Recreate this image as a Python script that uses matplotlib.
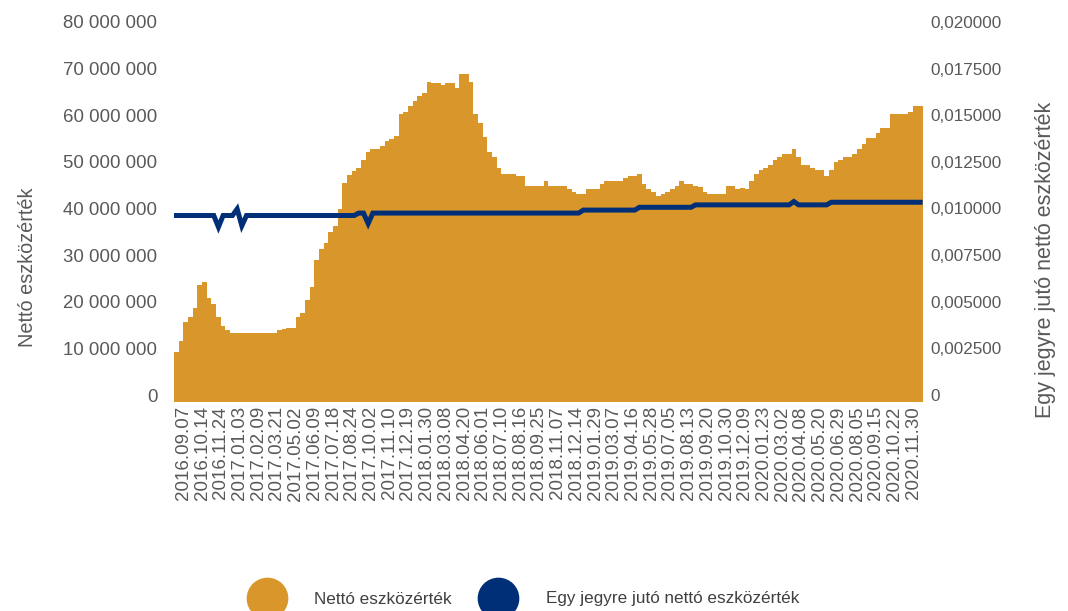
import numpy as np
import matplotlib
matplotlib.use("Agg")
import matplotlib.pyplot as plt
from matplotlib.ticker import FuncFormatter
from matplotlib.lines import Line2D
from matplotlib.transforms import ScaledTranslation

# tick dates shown on the category axis (one every 4 samples)
date_labels = [
    "2016.09.07", "2016.10.14", "2016.11.24", "2017.01.03", "2017.02.09",
    "2017.03.21", "2017.05.02", "2017.06.09", "2017.07.18", "2017.08.24",
    "2017.10.02", "2017.11.10", "2017.12.19", "2018.01.30", "2018.03.08",
    "2018.04.20", "2018.06.01", "2018.07.10", "2018.08.16", "2018.09.25",
    "2018.11.07", "2018.12.14", "2019.01.29", "2019.03.07", "2019.04.16",
    "2019.05.28", "2019.07.05", "2019.08.13", "2019.09.20", "2019.10.30",
    "2019.12.09", "2020.01.23", "2020.03.02", "2020.04.08", "2020.05.20",
    "2020.06.29", "2020.08.05", "2020.09.15", "2020.10.22", "2020.11.30",
]

# net asset value, million HUF (sampled 4x per label interval)
net_assets = [
    10.8, 13.0, 17.1, 18.3, 20.1, 25.0, 25.7, 22.2, 21.0, 18.3,
    16.4, 15.5, 14.8, 14.8, 14.8, 14.9, 14.9, 14.8, 14.8, 14.8,
    14.8, 14.8, 15.4, 15.7, 15.9, 15.9, 18.3, 19.1, 21.8, 24.6,
    30.4, 32.9, 34.1, 36.5, 37.7, 41.3, 46.9, 48.7, 49.5, 50.1,
    52.0, 53.6, 54.3, 54.3, 54.9, 56.0, 56.5, 57.0, 61.8, 62.2,
    63.5, 64.6, 65.6, 66.2, 68.7, 68.5, 68.5, 68.0, 68.5, 68.5,
    67.4, 70.4, 70.4, 68.6, 61.8, 59.9, 56.9, 53.6, 52.6, 50.2,
    49.0, 49.0, 49.0, 48.4, 48.4, 46.3, 46.3, 46.3, 46.3, 47.4,
    46.3, 46.3, 46.3, 46.3, 45.7, 45.1, 44.6, 44.6, 45.7, 45.7,
    45.7, 46.7, 47.4, 47.4, 47.4, 47.4, 48.0, 48.4, 48.4, 49.0,
    46.7, 45.7, 45.1, 44.1, 44.6, 45.1, 45.7, 46.3, 47.4, 46.7,
    46.7, 46.3, 46.2, 45.1, 44.6, 44.6, 44.6, 44.6, 46.3, 46.3,
    45.7, 46.0, 45.7, 47.4, 49.0, 49.7, 50.1, 50.8, 51.9, 52.6,
    53.2, 53.2, 54.3, 52.6, 50.8, 50.8, 50.1, 49.7, 49.7, 48.4,
    49.7, 51.5, 51.9, 52.6, 52.6, 53.2, 54.3, 55.3, 56.6, 56.6,
    57.7, 58.7, 58.7, 61.8, 61.8, 61.8, 61.8, 62.2, 63.5, 63.5,
]

# net asset value per unit
per_unit = (
    [0.01000] * 9 + [0.00938] + [0.01000] * 3 + [0.01035, 0.00945]
    + [0.01000] * 24
    + [0.01013, 0.01013, 0.00957] + [0.01013] * 45
    + [0.01029] * 12
    + [0.01044] * 12
    + [0.01057] * 21 + [0.01075] + [0.01057] * 7
    + [0.01071] * 20
)

orange = "#d9962b"
navy = "#002f77"
grey = "#595959"

plt.rcParams["font.family"] = ["Liberation Sans", "DejaVu Sans"]

fig = plt.figure(figsize=(10.68, 6.11), dpi=100)
ax = fig.add_axes([174 / 1068, 1 - 402 / 611, 748.5 / 1068, 373 / 611])
ax2 = ax.twinx()

n = len(net_assets)
edges = np.linspace(-0.5, len(date_labels) - 0.5, n + 1)
centers = (edges[:-1] + edges[1:]) / 2

ax.stairs(np.array(net_assets) * 1e6, edges, fill=True, color=orange, linewidth=0)
ax2.plot(centers, per_unit, color=navy, lw=3.6, solid_joinstyle="miter")

ax.set_xlim(-0.5, len(date_labels) - 0.5)
ax.set_ylim(0, 80e6)
ax2.set_ylim(0, 0.02)
ax.set_yticks(np.arange(0, 80e6 + 1, 10e6))
ax2.set_yticks(np.arange(0, 0.02 + 1e-9, 0.0025))
ax.yaxis.set_major_formatter(FuncFormatter(lambda v, p: f"{int(round(v)):,}".replace(",", " ")))
ax2.yaxis.set_major_formatter(FuncFormatter(lambda v, p: "0" if v == 0 else f"{v:.6f}".replace(".", ",")))

ax.set_xticks(range(len(date_labels)))
ax.set_xticklabels(date_labels, rotation=90, fontsize=13.5, color=grey)

for a in (ax, ax2):
    for s in a.spines.values():
        s.set_visible(False)
    a.tick_params(axis="y", length=0, labelcolor=grey)
ax.tick_params(axis="x", length=0, pad=3)
ax.tick_params(axis="y", pad=12, labelsize=13.4)
ax2.tick_params(axis="y", pad=6, labelsize=12.3)

# value labels sit a bit above their gridline in the original
shift = ScaledTranslation(0, 0.07, fig.dpi_scale_trans)
for lab in ax.get_yticklabels() + ax2.get_yticklabels():
    lab.set_transform(lab.get_transform() + shift)

fig.text(28 / 1068, 1 - 267 / 611, "Nettó eszközérték", rotation=90,
         ha="center", va="center", fontsize=14.3, color=grey)
fig.text(1045 / 1068, 1 - 260 / 611, "Egy jegyre jutó nettó eszközérték", rotation=90,
         ha="center", va="center", fontsize=15.5, color=grey)

handles = [
    Line2D([], [], marker="o", ls="", ms=29, color=orange),
    Line2D([], [], marker="o", ls="", ms=29, color=navy),
]
fig.legend(handles, ["Nettó eszközérték", "Egy jegyre jutó nettó eszközérték"],
           loc="center left", bbox_to_anchor=(246 / 1068, 1 - 599 / 611), ncol=2,
           frameon=False, fontsize=12.3, labelcolor="#404040",
           borderpad=0, borderaxespad=0, handlelength=2.4,
           handletextpad=1.6, columnspacing=1.5)

fig.savefig("out.png", dpi=100)
